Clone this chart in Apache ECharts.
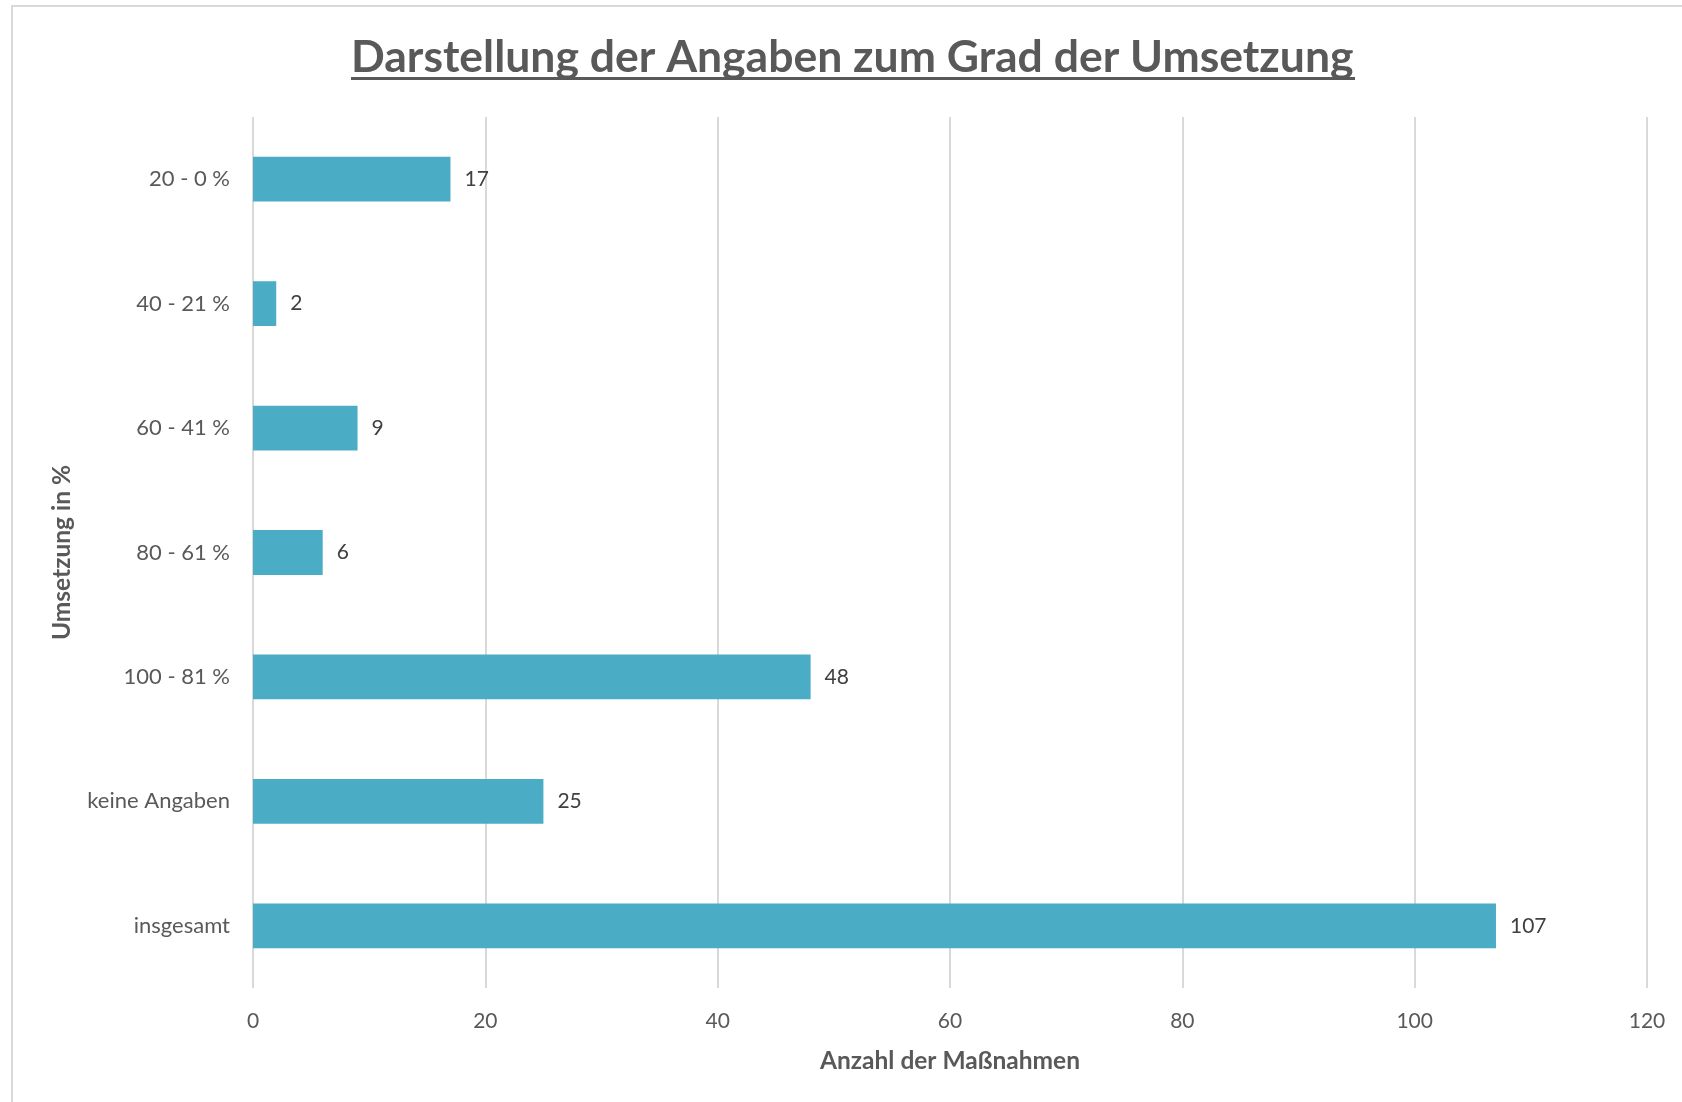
<!DOCTYPE html>
<html>
<head>
<meta charset="utf-8">
<script src="https://cdn.jsdelivr.net/npm/echarts@6/dist/echarts.min.js"></script>
<style>
  html, body { margin: 0; padding: 0; background: #fff; }
  #chart { width: 1682px; height: 1102px; }
</style>
</head>
<body>
<div id="chart"></div>
<script>
// Kategorien (von oben nach unten)
const categories = ["20 - 0 %", "40 - 21 %", "60 - 41 %", "80 - 61 %", "100 - 81 %", "keine Angaben", "insgesamt"];
const counts = [17, 2, 9, 6, 48, 25, 107];

const font = "Lato, 'Open Sans', sans-serif";
const grey = "#595959";

const chart = echarts.init(document.getElementById("chart"));

chart.setOption({
  backgroundColor: "#fff",
  animation: false,
  title: {
    text: "Darstellung der Angaben zum Grad der Umsetzung",
    left: 346,
    top: 30,
    textStyle: {
      fontFamily: font,
      fontSize: 44.5,
      fontWeight: "bold",
      color: grey
    }
  },
  graphic: [
    // Rahmen des Diagramms
    {
      type: "rect",
      shape: {x: 12, y: 6, width: 1700, height: 1120},
      style: {fill: "none", stroke: "#d9d9d9", lineWidth: 2},
      silent: true
    },
    // Unterstreichung des Titels
    {
      type: "rect",
      shape: {x: 351, y: 77, width: 1004, height: 3},
      style: {fill: grey},
      silent: true
    }
  ],
  grid: {
    left: 253,
    top: 117,
    right: 35,
    bottom: 114
  },
  xAxis: {
    type: "value",
    min: 0,
    max: 120,
    interval: 20,
    name: "Anzahl der Maßnahmen",
    nameLocation: "middle",
    nameGap: 61,
    nameTextStyle: {
      fontFamily: font,
      fontSize: 24.5,
      fontWeight: "bold",
      color: grey
    },
    axisLine: {show: false},
    axisTick: {show: false},
    axisLabel: {
      margin: 23,
      fontFamily: font,
      fontSize: 21,
      color: grey
    },
    splitLine: {
      lineStyle: {color: "#d9d9d9", width: 2}
    }
  },
  yAxis: {
    type: "category",
    data: categories,
    inverse: true,
    name: "Umsetzung in %",
    nameLocation: "middle",
    nameGap: 178,
    nameRotate: 90,
    nameTextStyle: {
      fontFamily: font,
      fontSize: 24.5,
      fontWeight: "bold",
      color: grey
    },
    axisLine: {show: false},
    axisTick: {show: false},
    axisLabel: {
      margin: 23,
      fontFamily: font,
      fontSize: 22,
      color: grey
    }
  },
  series: [
    {
      type: "bar",
      data: counts,
      barWidth: "36%",
      itemStyle: {color: "#4bacc6"},
      label: {
        show: true,
        position: "right",
        distance: 14,
        fontFamily: font,
        fontSize: 21,
        color: "#404040"
      }
    }
  ]
});
</script>
</body>
</html>
